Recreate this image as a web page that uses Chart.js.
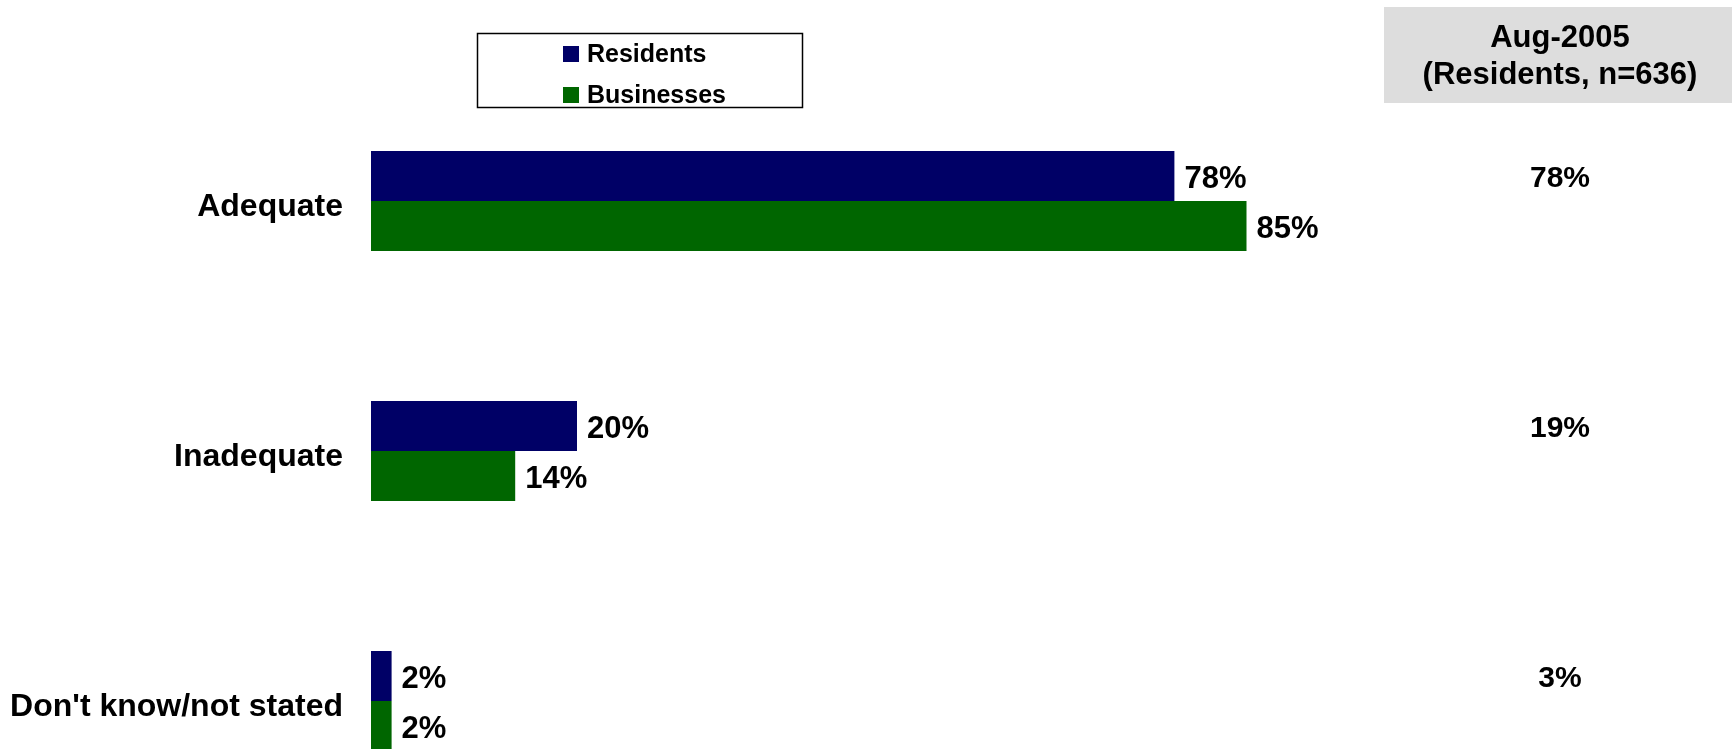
<!DOCTYPE html>
<html>
<head>
<meta charset="utf-8">
<style>
  html, body { margin: 0; padding: 0; background: #ffffff; overflow: hidden; }
  #wrap { width: 1732px; height: 749px; position: relative; }
</style>
<script src="https://cdn.jsdelivr.net/npm/chart.js@4.4.1/dist/chart.umd.min.js"></script>
</head>
<body>
<div id="wrap"><canvas id="chart" width="1732" height="749"></canvas></div>
<script>
// Survey answers: is the service adequate?
const categories = ['Adequate', 'Inadequate', "Don't know/not stated"];
const residents = [78, 20, 2];
const businesses = [85, 14, 2];
// Earlier wave, residents only, shown as a side column
const aug2005 = [78, 19, 3];
const aug2005Header = ['Aug-2005', '(Residents, n=636)'];
const seriesNames = ['Residents', 'Businesses'];

const NAVY = '#000066';
const GREEN = '#006600';
const FONT = '"Liberation Sans", Arial, Helvetica, sans-serif';

// Percent labels at the end of each bar
const valueLabels = {
  id: 'valueLabels',
  afterDatasetsDraw(chart) {
    const ctx = chart.ctx;
    ctx.save();
    ctx.font = 'bold 31px ' + FONT;
    ctx.fillStyle = '#000';
    ctx.textAlign = 'left';
    ctx.textBaseline = 'middle';
    chart.data.datasets.forEach((ds, di) => {
      chart.getDatasetMeta(di).data.forEach((bar, i) => {
        ctx.fillText(ds.data[i] + '%', bar.x + 10, bar.y + 3);
      });
    });
    ctx.restore();
  }
};

// Side column with the Aug-2005 comparison figures
const sideColumn = {
  id: 'sideColumn',
  afterDatasetsDraw(chart) {
    const ctx = chart.ctx;
    const cx = 1560;
    ctx.save();
    ctx.fillStyle = '#dddddd';
    ctx.fillRect(1384, 7, 348, 96);
    ctx.fillStyle = '#000';
    ctx.font = 'bold 31px ' + FONT;
    ctx.textAlign = 'center';
    ctx.textBaseline = 'middle';
    ctx.fillText(aug2005Header[0], cx, 38);
    ctx.fillText(aug2005Header[1], cx, 75);
    ctx.font = 'bold 30px ' + FONT;
    const meta = chart.getDatasetMeta(0);
    meta.data.forEach((bar, i) => {
      ctx.fillText(aug2005[i] + '%', cx, bar.y + 3);
    });
    ctx.restore();
  }
};

// Boxed legend with the two series stacked
const boxLegend = {
  id: 'boxLegend',
  afterDraw(chart) {
    const ctx = chart.ctx;
    ctx.save();
    ctx.strokeStyle = '#000';
    ctx.lineWidth = 1.5;
    ctx.strokeRect(477.5, 33.5, 325, 74);
    ctx.font = 'bold 25px ' + FONT;
    ctx.textAlign = 'left';
    ctx.textBaseline = 'middle';
    chart.data.datasets.forEach((ds, i) => {
      const y = 54 + i * 41;
      ctx.fillStyle = ds.backgroundColor;
      ctx.fillRect(563, y - 8, 16, 16);
      ctx.fillStyle = '#000';
      ctx.fillText(ds.label, 587, y + 1);
    });
    ctx.restore();
  }
};

new Chart(document.getElementById('chart'), {
  type: 'bar',
  data: {
    labels: categories,
    datasets: [
      { label: seriesNames[0], data: residents, backgroundColor: NAVY, clip: false },
      { label: seriesNames[1], data: businesses, backgroundColor: GREEN, clip: false }
    ]
  },
  options: {
    indexAxis: 'y',
    responsive: false,
    animation: false,
    devicePixelRatio: 1,
    layout: { padding: { top: 201, bottom: 48, left: 0, right: 331 } },
    datasets: { bar: { categoryPercentage: 0.4, barPercentage: 1.0 } },
    plugins: { legend: { display: false }, tooltip: { enabled: false } },
    scales: {
      x: { type: 'linear', min: 0, max: 100, display: false },
      y: {
        type: 'category',
        offset: false,
        grid: { display: false, drawTicks: false },
        border: { display: false },
        ticks: {
          color: '#000',
          padding: 28,
          labelOffset: 6,
          font: { family: FONT, size: 32, weight: 'bold' }
        },
        afterFit(scale) { scale.width = 371; }
      }
    }
  },
  plugins: [valueLabels, sideColumn, boxLegend]
});
</script>
</body>
</html>
